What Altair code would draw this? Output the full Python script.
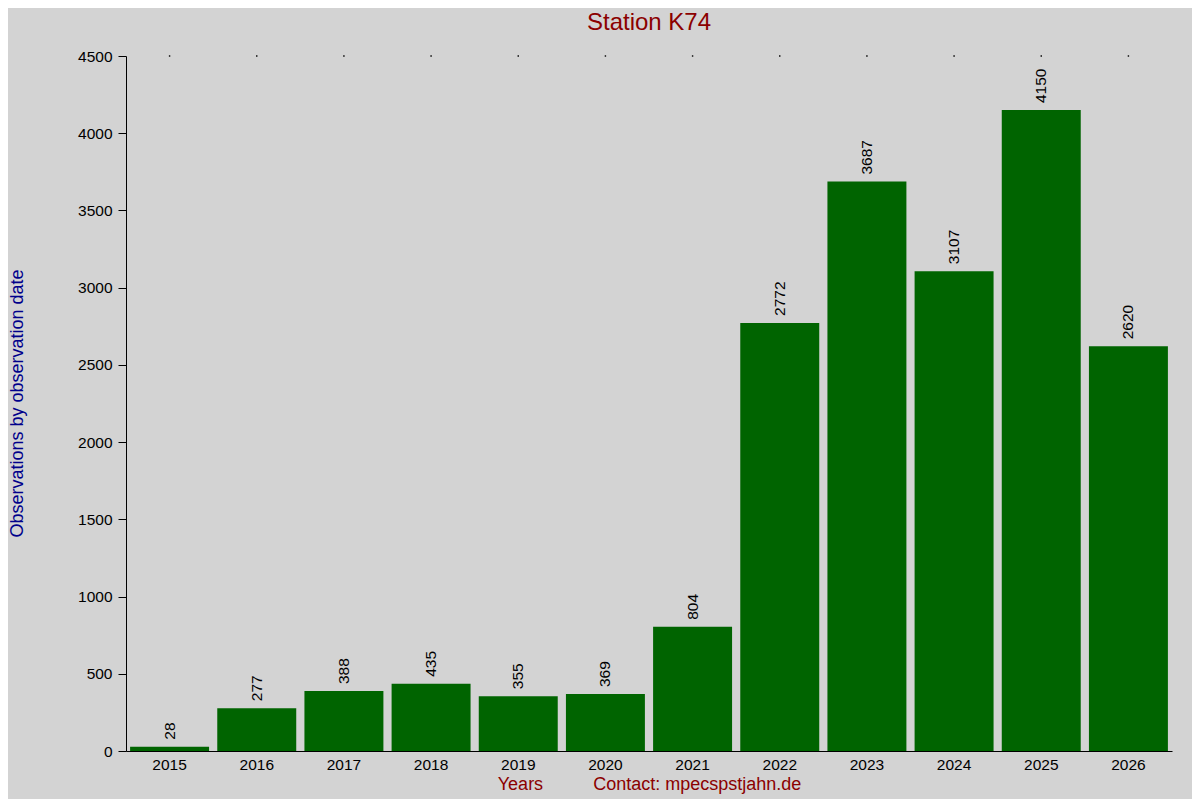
import altair as alt
import pandas as pd

years = ["2015", "2016", "2017", "2018", "2019", "2020", "2021", "2022", "2023", "2024", "2025", "2026"]
counts = [28, 277, 388, 435, 355, 369, 804, 2772, 3687, 3107, 4150, 2620]
y_ticks = [0, 500, 1000, 1500, 2000, 2500, 3000, 3500, 4000, 4500]

df = pd.DataFrame({"year": years, "count": counts})

FONT = "Liberation Sans"
NB = "\u00a0"
x_title = "Years" + NB * 10 + "Contact: mpecspstjahn.de"

x_enc = alt.X(
    "year:N",
    sort=years,
    scale=alt.Scale(paddingInner=0.094, paddingOuter=0.047),
    axis=alt.Axis(
        title=x_title,
        titleColor="#8B0000",
        titleFontSize=18,
        titleFontWeight="normal",
        titleFont=FONT,
        titleBaseline="middle",
        titleY=33,
        labelAngle=0,
        labelFontSize=15.5,
        labelFont=FONT,
        labelColor="black",
        labelPadding=6,
        ticks=False,
        domainColor="black",
        domainWidth=1,
    ),
)

y_scale = alt.Scale(domain=[0, 4500], nice=False)
y_enc = alt.Y(
    "count:Q",
    scale=y_scale,
    axis=alt.Axis(
        title="Observations by observation date",
        titleColor="#00008B",
        titleFontSize=18,
        titleFontWeight="normal",
        titleFont=FONT,
        titleBaseline="middle",
        titleAngle=-90,
        titleX=-109,
        titleY=347,
        values=y_ticks,
        format="d",
        grid=False,
        labelFontSize=15.5,
        labelFont=FONT,
        labelColor="black",
        labelPadding=6,
        tickSize=8,
        tickColor="black",
        domainColor="black",
    ),
)

base = alt.Chart(df)

bars = base.mark_bar(color="#006400").encode(x=x_enc, y=y_enc)

labels = base.mark_text(
    angle=270, align="left", baseline="middle", dx=7, fontSize=15.5, font=FONT, color="black"
).encode(x=alt.X("year:N", sort=years), y=alt.Y("count:Q", scale=y_scale), text="count:Q")

dots = base.mark_square(size=2, color="black", opacity=1).encode(
    x=alt.X("year:N", sort=years), y=alt.YDatum(4500)
)

chart = (
    alt.layer(bars, labels, dots)
    .properties(
        width=1046,
        height=695,
        background="#d3d3d3",
        padding={"left": 118, "top": 48, "right": 20, "bottom": 48},
        autosize=alt.AutoSizeParams(type="none"),
        title=alt.TitleParams(
            text="Station K74",
            color="#8B0000",
            fontSize=24,
            fontWeight="normal",
            font=FONT,
            anchor="middle",
            offset=14,
        ),
    )
    .configure_view(stroke=None)
)

chart.save("out.html", embed_options={"renderer": "svg", "actions": False})
